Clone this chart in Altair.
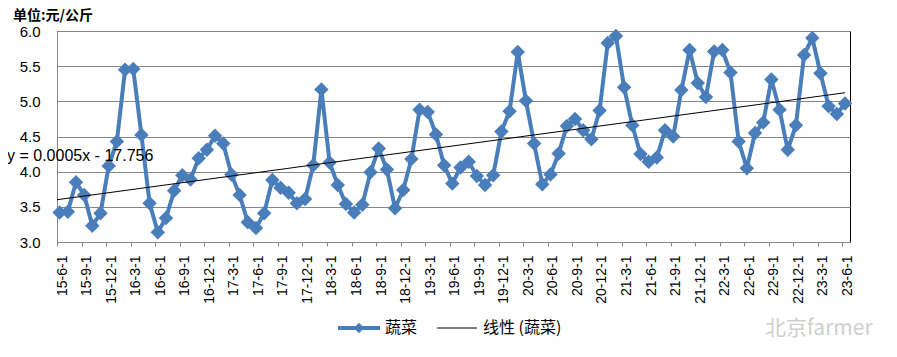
import json
import altair as alt
import pandas as pd

# ---------------- data ----------------
values = [
    3.42, 3.43, 3.85, 3.67, 3.23, 3.41, 4.08, 4.43, 5.45, 5.46,
    4.52, 3.55, 3.14, 3.34, 3.73, 3.95, 3.89, 4.19, 4.31, 4.51,
    4.40, 3.96, 3.67, 3.28, 3.20, 3.41, 3.88, 3.77, 3.70, 3.55,
    3.61, 4.09, 5.17, 4.13, 3.81, 3.54, 3.42, 3.53, 3.99, 4.33,
    4.03, 3.48, 3.74, 4.18, 4.88, 4.85, 4.53, 4.09, 3.83, 4.06,
    4.14, 3.94, 3.81, 3.95, 4.57, 4.86, 5.70, 5.01, 4.40, 3.82,
    3.96, 4.26, 4.65, 4.75, 4.59, 4.46, 4.87, 5.83, 5.93, 5.20,
    4.66, 4.25, 4.14, 4.20, 4.59, 4.50, 5.16, 5.73, 5.26, 5.06,
    5.71, 5.73, 5.41, 4.43, 4.05, 4.55, 4.70, 5.31, 4.88, 4.31,
    4.66, 5.66, 5.90, 5.40, 4.93, 4.82, 4.97,
]
tick_labels = [
    "15-6-1", "15-9-1", "15-12-1", "16-3-1", "16-6-1", "16-9-1", "16-12-1",
    "17-3-1", "17-6-1", "17-9-1", "17-12-1", "18-3-1", "18-6-1", "18-9-1",
    "18-12-1", "19-3-1", "19-6-1", "19-9-1", "19-12-1", "20-3-1", "20-6-1",
    "20-9-1", "20-12-1", "21-3-1", "21-6-1", "21-9-1", "21-12-1", "22-3-1",
    "22-6-1", "22-9-1", "22-12-1", "23-3-1", "23-6-1",
]
y_ticks = [3.0, 3.5, 4.0, 4.5, 5.0, 5.5, 6.0]
series_name = "蔬菜"
trend_name = "线性 (蔬菜)"
equation = "y = 0.0005x  - 17.756"
unit_title = "单位:元/公斤"
watermark = "北京farmer"

# month index (0 = 2015-06); points sit a little after the 1st of each month
months = [i + 0.32 for i in range(len(values))]
df = pd.DataFrame({"t": months, "v": values})

BLUE = "#4A7EBB"
GRID = "#868686"
LATIN = "Liberation Sans, Noto Sans CJK SC"
CJK = "Noto Sans CJK SC, Liberation Sans"
X_MAX = 96.93

xscale = alt.Scale(domain=[0, X_MAX], nice=False, zero=False)
yscale = alt.Scale(domain=[3, 6], nice=False, zero=False)

label_array = "[" + ",".join(json.dumps(s) for s in tick_labels) + "]"

x_axis = alt.Axis(
    values=list(range(0, 97, 3)),
    labelExpr=label_array + "[round(datum.value/3)]",
    labelAngle=-90,
    labelAlign="right",
    labelBaseline="middle",
    labelOffset=5,
    labelPadding=9,
    labelFont="Liberation Sans",
    labelFontSize=14,
    labelColor="#000000",
    labelOverlap=False,
    labelBound=False,
    tickSize=4,
    tickColor=GRID,
    domainColor=GRID,
    grid=False,
    title=None,
)
y_axis = alt.Axis(
    values=y_ticks,
    format=".1f",
    labelFont="Liberation Sans",
    labelFontSize=15,
    labelColor="#000000",
    labelPadding=17,
    labelOverlap=False,
    ticks=False,
    domainColor=GRID,
    grid=True,
    gridColor=GRID,
    gridWidth=1,
    title=None,
)

X = alt.X("t:Q", scale=xscale, axis=x_axis)
Y = alt.Y("v:Q", scale=yscale, axis=y_axis)

base = alt.Chart(df).encode(x=X, y=Y)
line = base.mark_line(color=BLUE, strokeWidth=4)
pts = base.mark_point(shape="diamond", filled=True, size=210, opacity=1, color=BLUE)

trend = (
    alt.Chart(df)
    .transform_regression("t", "v", extent=[0, 96.32])
    .mark_line(color="black", strokeWidth=1)
    .encode(x=X, y=Y)
)

one = pd.DataFrame({"k": [0]})


def label(text, x, y, size, font, color="black", weight="normal", align="left"):
    return (
        alt.Chart(pd.DataFrame({"s": [text]}))
        .mark_text(align=align, baseline="middle", fontSize=size, font=font,
                   color=color, fontWeight=weight)
        .encode(x=alt.value(x), y=alt.value(y), text="s:N")
    )


title_txt = label(unit_title, -44, -15, 14, CJK, weight="bold")
eq_txt = label(equation, -50, 125, 16, LATIN)

leg_line1 = alt.Chart(one).mark_rule(color=BLUE, strokeWidth=4).encode(
    x=alt.value(281), x2=alt.value(323), y=alt.value(297))
leg_pt1 = alt.Chart(one).mark_point(shape="diamond", filled=True, size=110, opacity=1,
                                    color=BLUE).encode(x=alt.value(302), y=alt.value(297))
leg_txt1 = label(series_name, 328, 297, 16, CJK)
leg_line2 = alt.Chart(one).mark_rule(color="black", strokeWidth=1).encode(
    x=alt.value(380), x2=alt.value(420), y=alt.value(297))
leg_txt2 = label(trend_name, 426, 297, 16, CJK)
wm_txt = label(watermark, 708, 298, 21, CJK, color="#cfcfcf")

chart = (
    alt.layer(line, pts, trend, title_txt, eq_txt,
              leg_line1, leg_pt1, leg_txt1, leg_line2, leg_txt2, wm_txt)
    .properties(
        width=793,
        height=211,
        padding={"left": 49, "top": 23, "right": 38, "bottom": 100},
        autosize=alt.AutoSizeParams(type="none"),
        background="white",
    )
    .configure_view(stroke="black", strokeWidth=1)
)

chart.save("out.html", embed_options={"renderer": "svg", "actions": False})
